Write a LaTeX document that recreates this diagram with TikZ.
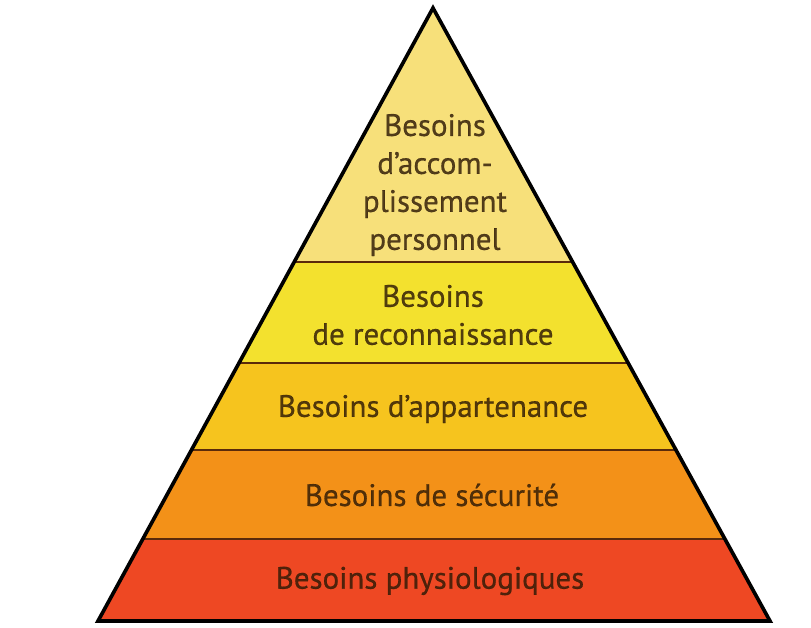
\documentclass[tikz,border=0pt]{standalone}
\usepackage{fontspec}
\setmainfont{PT Sans}[FakeBold=0.6]
\usetikzlibrary{calc}
\definecolor{tierfive}{HTML}{F7E07A}
\definecolor{tierfour}{HTML}{F3E12E}
\definecolor{tierthree}{HTML}{F6C41E}
\definecolor{tiertwo}{HTML}{F39118}
\definecolor{tierone}{HTML}{EE4823}
\definecolor{seambrown}{HTML}{5A2A0A}
\definecolor{inkbrown}{HTML}{2E1A06}
\tikzset{seam/.style={draw=seambrown, line width=2pt},
  outline/.style={draw=black, line width=2.6pt, line join=miter},
  tierlabel/.style={text=inkbrown, text opacity=0.82, align=center, inner sep=0pt, font=\fontsize{22}{27}\selectfont}}

\begin{document}
\begin{tikzpicture}[x=0.025cm, y=-0.025cm]
\useasboundingbox (0,0) rectangle (811,627);
\coordinate (apex) at (433,8);
\coordinate (bl) at (98,621);
\coordinate (br) at (770,621);
% tier boundaries along the two sides
\foreach \t/\n in {0.4144/a,0.5791/b,0.7210/c,0.8662/d}{
  \coordinate (l\n) at ($(apex)!\t!(bl)$);
  \coordinate (r\n) at ($(apex)!\t!(br)$);
}
\fill[tierfive] (apex) -- (ra) -- (la) -- cycle;
\fill[tierfour] (la) -- (ra) -- (rb) -- (lb) -- cycle;
\fill[tierthree] (lb) -- (rb) -- (rc) -- (lc) -- cycle;
\fill[tiertwo] (lc) -- (rc) -- (rd) -- (ld) -- cycle;
\fill[tierone] (ld) -- (rd) -- (br) -- (bl) -- cycle;
\draw[seam] (la) -- (ra);
\draw[seam] (lb) -- (rb);
\draw[seam] (lc) -- (rc);
\draw[seam] (ld) -- (rd);
\draw[outline] (apex) -- (br) -- (bl) -- cycle;
% labels
\node[tierlabel] (accomp) at (435,185) {Besoins\\d’accom-\\plissement\\personnel};
\node[tierlabel] (reconn) at (433,315) {Besoins\\de reconnaissance};
\node[tierlabel] (appart) at (433,409) {Besoins d’appartenance};
\node[tierlabel] (secur) at (432,495) {Besoins de sécurité};
\node[tierlabel] (physio) at (430,581) {Besoins physiologiques};
\end{tikzpicture}
\end{document}
